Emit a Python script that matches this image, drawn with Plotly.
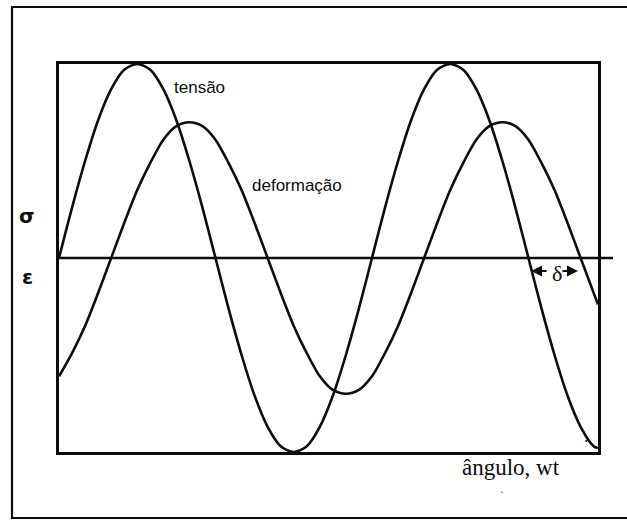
import plotly.graph_objects as go

# Ângulo wt (graus) e valores normalizados das duas curvas
angulo = list(range(0, 616, 15)) + [620]
tensao = [0.0, 0.26, 0.5, 0.71, 0.87, 0.97, 1.0, 0.97, 0.87, 0.71, 0.5, 0.26,
          0.0, -0.26, -0.5, -0.71, -0.87, -0.97, -1.0, -0.97, -0.87, -0.71, -0.5, -0.26,
          0.0, 0.26, 0.5, 0.71, 0.87, 0.97, 1.0, 0.97, 0.87, 0.71, 0.5, 0.26,
          0.0, -0.26, -0.5, -0.71, -0.87, -0.97, -0.98]
deformacao = [-0.61, -0.49, -0.35, -0.18, 0.0, 0.18, 0.35, 0.49, 0.61, 0.68, 0.7, 0.68,
              0.61, 0.49, 0.35, 0.18, 0.0, -0.18, -0.35, -0.49, -0.61, -0.68, -0.7, -0.68,
              -0.61, -0.49, -0.35, -0.18, 0.0, 0.18, 0.35, 0.49, 0.61, 0.68, 0.7, 0.68,
              0.61, 0.49, 0.35, 0.18, 0.0, -0.18, -0.24]

# Defasagem δ entre os cruzamentos descendentes de tensão e deformação
delta_inicio = 543
delta_fim = 600

W, H = 627, 520
L, R, T, B = 59, 29, 64, 68
pw, ph = W - L - R, H - T - B


def px(x):
    return (x - L) / pw


def py(y):
    return (H - B - y) / ph


ink = "#0d0d0d"

fig = go.Figure()
fig.add_trace(go.Scatter(x=angulo, y=tensao, mode="lines", name="tensão",
                         line=dict(color=ink, width=2.6, shape="spline", smoothing=0.8)))
fig.add_trace(go.Scatter(x=angulo, y=deformacao, mode="lines", name="deformação",
                         line=dict(color=ink, width=2.6, shape="spline", smoothing=0.8)))

axis_common = dict(showgrid=False, zeroline=False, showticklabels=False, ticks="",
                   showline=True, linecolor=ink, linewidth=2.6, mirror=True)

fig.update_layout(
    width=W, height=H,
    margin=dict(l=L, r=R, t=T, b=B),
    paper_bgcolor="white", plot_bgcolor="white",
    showlegend=False,
    xaxis=dict(range=[0, 620], **axis_common),
    yaxis=dict(range=[-1, 1], **axis_common),
    shapes=[
        # moldura externa
        dict(type="rect", xref="paper", yref="paper",
             x0=px(12), x1=px(640), y0=py(518), y1=py(7),
             line=dict(color=ink, width=2.2)),
        # eixo horizontal (zero)
        dict(type="line", xref="paper", yref="y",
             x0=0, x1=px(613), y0=0, y1=0,
             line=dict(color=ink, width=2.4)),
    ],
)


def label(x, y, text, family, size, color=ink, weight="normal"):
    return dict(x=x, y=y, xref="paper", yref="paper", text=text, showarrow=False,
                xanchor="center", yanchor="middle",
                font=dict(family=family, size=size, color=color, weight=weight))


ann = [
    label(px(27), py(216), "σ", "DejaVu Sans", 20, weight="bold"),
    label(px(27), py(277), "ε", "DejaVu Sans", 20, weight="bold"),
    label(px(199), py(87), "tensão", "Liberation Sans", 17),
    label(px(297), py(185), "deformação", "Liberation Sans", 17),
    label(px(511), py(467), "ângulo, wt", "Liberation Serif", 23),
    # pequenos pontos da impressão
    label(px(586), py(440), "•", "Liberation Sans", 7),
    label(px(502), py(492), "•", "Liberation Sans", 5, color="#555555"),
]
# rótulo δ com setas de cota
ann.append(dict(x=(delta_inicio + delta_fim) / 2 + 1, y=py(273), xref="x", yref="paper",
                text="δ", showarrow=False, xanchor="center", yanchor="middle",
                font=dict(family="Liberation Serif", size=22, color=ink)))
ann.append(dict(x=delta_inicio, y=py(271), xref="x", yref="paper", text="",
                showarrow=True, ax=17, ay=0, arrowhead=2, arrowsize=1,
                arrowwidth=2.2, arrowcolor=ink, standoff=0))
ann.append(dict(x=delta_fim - 3, y=py(271), xref="x", yref="paper", text="",
                showarrow=True, ax=-17, ay=0, arrowhead=2, arrowsize=1,
                arrowwidth=2.2, arrowcolor=ink, standoff=0))
fig.update_layout(annotations=ann)

fig.write_html("out.html")
